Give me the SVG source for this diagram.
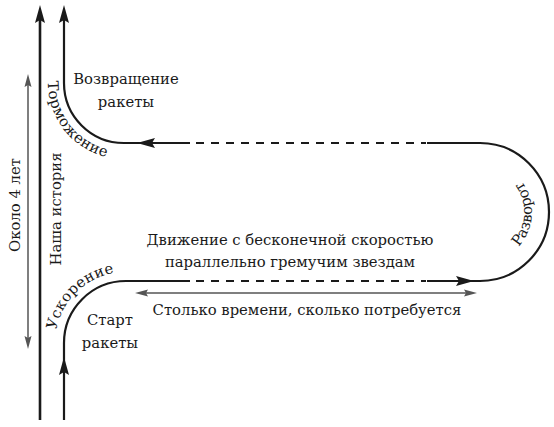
<svg xmlns="http://www.w3.org/2000/svg" xmlns:xlink="http://www.w3.org/1999/xlink" width="554" height="427" viewBox="0 0 554 427">
  <style>
    .ln { fill: none; stroke: #1a1a1a; stroke-width: 2.2; }
    .dash { fill: none; stroke: #1a1a1a; stroke-width: 2.2; stroke-dasharray: 8 7; }
    .thin { fill: none; stroke: #555; stroke-width: 1.5; }
    .ah { fill: #1a1a1a; }
    .ahg { fill: #555; }
    .t { font-family: "DejaVu Serif", "Liberation Serif", serif; font-size: 14.8px; fill: #1a1a1a; }
    .m { text-anchor: middle; }
  </style>
  <defs>
    <path id="pTorm" d="M 48 60 V 83 A 76 76 0 0 0 124 159 H 160"/>
    <path id="pUsk" d="M 55 390 V 343 A 71 71 0 0 1 126 272 H 200"/>
    <path id="pRazv" d="M 503.6 258.3 A 52 52 0 0 0 508.3 168.4"/>
  </defs>
  <rect width="554" height="427" fill="#ffffff"/>

  <g id="connectors">
    <!-- our history line -->
    <line class="ln" x1="40" y1="420" x2="40" y2="18" style="stroke-width:2.6"/>
    <polygon class="ah" points="40,5 45,23 40,20 35,23"/>
    <!-- rocket path -->
    <path class="ln" d="M 64 420 V 343 A 62 62 0 0 1 126 281 H 190"/>
    <polygon class="ah" points="64,357 69,375 64,372 59,375"/>
    <line class="dash" x1="196" y1="281" x2="426" y2="281"/>
    <path class="ln" d="M 427 281 H 480 A 69 69 0 0 0 480 143 H 427"/>
    <polygon class="ah" points="474,281 456,276 459,281 456,286"/>
    <line class="dash" x1="196" y1="143" x2="426" y2="143"/>
    <path class="ln" d="M 190 143 H 124 A 60 60 0 0 1 64 83 V 18"/>
    <polygon class="ah" points="137,143 155,138 152,143 155,148"/>
    <polygon class="ah" points="64,5 69,23 64,20 59,23"/>
    <!-- time span -->
    <line class="thin" x1="142" y1="293" x2="470" y2="293"/>
    <polygon class="ahg" points="135,293 148,289.5 146,293 148,296.5"/>
    <polygon class="ahg" points="477,293 464,289.5 466,293 464,296.5"/>
    <!-- about 4 years -->
    <line class="thin" x1="28" y1="80" x2="28" y2="343"/>
    <polygon class="ahg" points="28,74 31.5,87 28,85 24.5,87"/>
    <polygon class="ahg" points="28,349 31.5,336 28,338 24.5,336"/>
  </g>

  <g id="label-return">
    <text class="t m" x="126" y="84">Возвращение</text>
    <text class="t m" x="126" y="107">ракеты</text>
  </g>
  <g id="label-start">
    <text class="t m" x="110" y="325">Старт</text>
    <text class="t m" x="110" y="348">ракеты</text>
  </g>
  <g id="label-motion">
    <text class="t m" x="290" y="245">Движение с бесконечной скоростью</text>
    <text class="t m" x="290" y="267">параллельно гремучим звездам</text>
  </g>
  <g id="label-time">
    <text class="t m" x="307" y="315">Столько времени, сколько потребуется</text>
  </g>
  <g id="label-history">
    <text class="t m" transform="translate(61,209) rotate(-90)">Наша история</text>
  </g>
  <g id="label-years">
    <text class="t m" transform="translate(20,205) rotate(-90)">Около 4 лет</text>
  </g>
  <g id="label-braking">
    <text class="t" letter-spacing="0.4"><textPath xlink:href="#pTorm" href="#pTorm" startOffset="21">Торможение</textPath></text>
  </g>
  <g id="label-accel">
    <text class="t" letter-spacing="0.3"><textPath xlink:href="#pUsk" href="#pUsk" startOffset="60">Ускорение</textPath></text>
  </g>
  <g id="label-turn">
    <text class="t m"><textPath xlink:href="#pRazv" href="#pRazv" startOffset="50%">Разворот</textPath></text>
  </g>
</svg>
